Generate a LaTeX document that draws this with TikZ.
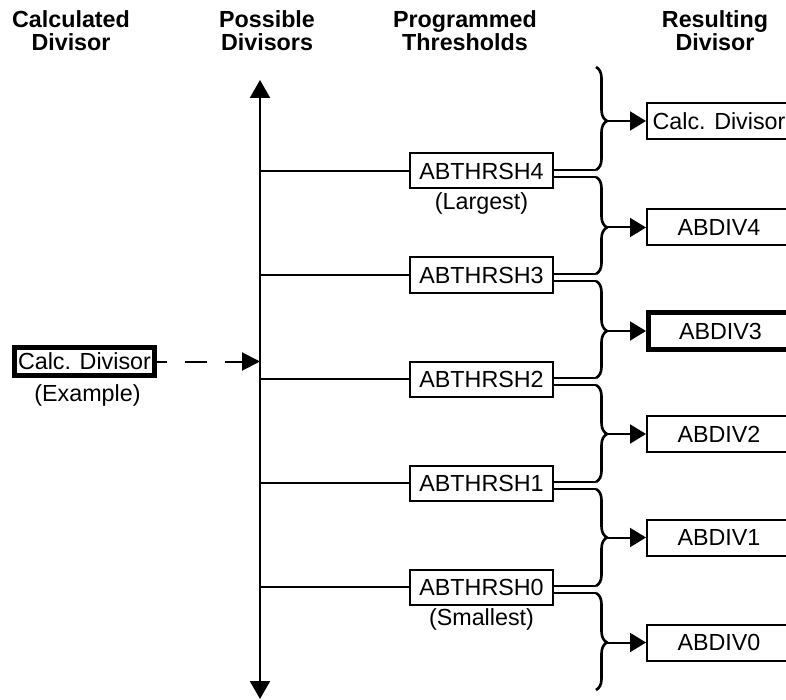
\documentclass[tikz,border=0pt]{standalone}
\usepackage{fontspec}
\setmainfont{Liberation Sans}
\usetikzlibrary{arrows.meta,decorations.pathreplacing}
\newcommand\bodyfnt{\fontsize{23.3}{26}\selectfont}
\begin{document}
\begin{tikzpicture}[x=1pt,y=-1pt,
  hdr/.style={font=\bfseries\fontsize{23.3}{23}\selectfont, align=center, anchor=north, inner sep=0pt},
  thr/.style={draw, line width=2pt, minimum width=143pt, minimum height=35pt, inner sep=0pt, font=\bodyfnt},
  rbox/.style={draw, line width=2pt, minimum width=144pt, minimum height=36pt, inner sep=0pt, font=\bodyfnt},
  rthick/.style={draw, line width=5pt, minimum width=144pt, minimum height=37pt, inner sep=0pt, font=\bodyfnt},
  lbl/.style={font=\bodyfnt, inner sep=0pt},
  thin/.style={line width=2pt},
  brc/.style={decorate, decoration={brace, amplitude=11pt, aspect=#1}, line width=2.6pt},
  tip/.style={-{Triangle[length=16pt,width=19pt]}, line width=2pt}
]
\useasboundingbox (0,0) rectangle (786,700);
\clip (0,0) rectangle (786,700);

% headers
\node[hdr] (h1) at (71,10) {Calculated\\Divisor};
\node[hdr] (h2) at (267,10) {Possible\\Divisors};
\node[hdr] (h3) at (465,10) {Programmed\\Thresholds};
\node[hdr] (h4) at (715,10) {Resulting\\Divisor};

% axis
\coordinate (axtop) at (260,80);
\coordinate (axbot) at (260,699);
\draw[line width=2pt, {Triangle[length=18pt,width=20pt]}-{Triangle[length=18pt,width=20pt]}] (axbot) -- (axtop);

% calculated divisor
\node[draw, line width=5pt, minimum width=140pt, minimum height=28pt, inner sep=0pt, font=\bodyfnt] (cd) at (84.5,361.5) {Calc. Divisor};
\node[lbl] (ex) at (87.5,395) {(Example)};
\draw[line width=2pt, dash pattern=on 22pt off 18pt, dash phase=12pt, -{Triangle[length=18pt,width=18pt]}] (cd.east) -- (cd.east -| axtop);

% thresholds
\node[thr] (t4) at (481.5,171) {ABTHRSH4};
\node[thr] (t3) at (481.5,275) {ABTHRSH3};
\node[thr] (t2) at (481.5,379) {ABTHRSH2};
\node[thr] (t1) at (481.5,483) {ABTHRSH1};
\node[thr] (t0) at (481.5,587) {ABTHRSH0};
\node[lbl] (lg) at (481.5,203) {(Largest)};
\node[lbl] (sm) at (481.5,619) {(Smallest)};

\foreach \t in {t4,t3,t2,t1,t0}{
  \draw[thin] (\t.west -| axtop) -- (\t.west);
}

% brace end points
\coordinate (b1t) at (596,67);
\coordinate (b1b) at (596,170);
\coordinate (b2t) at (596,177);
\coordinate (b2b) at (596,274);
\coordinate (b3t) at (596,281);
\coordinate (b3b) at (596,378);
\coordinate (b4t) at (596,385);
\coordinate (b4b) at (596,482);
\coordinate (b5t) at (596,489);
\coordinate (b5b) at (596,586);
\coordinate (b6t) at (596,593);
\coordinate (b6b) at (596,690);

% double lines
\draw[thin] (t4.east |- b1b) -- (b1b);
\draw[thin] (t4.east |- b2t) -- (b2t);
\draw[thin] (t3.east |- b2b) -- (b2b);
\draw[thin] (t3.east |- b3t) -- (b3t);
\draw[thin] (t2.east |- b3b) -- (b3b);
\draw[thin] (t2.east |- b4t) -- (b4t);
\draw[thin] (t1.east |- b4b) -- (b4b);
\draw[thin] (t1.east |- b5t) -- (b5t);
\draw[thin] (t0.east |- b5b) -- (b5b);
\draw[thin] (t0.east |- b6t) -- (b6t);

% braces
\draw[brc=0.524] (b1t) -- (b1b);
\draw[brc=0.52] (b2t) -- (b2b);
\draw[brc=0.515] (b3t) -- (b3b);
\draw[brc=0.505] (b4t) -- (b4b);
\draw[brc=0.5] (b5t) -- (b5b);
\draw[brc=0.51] (b6t) -- (b6b);

% results
\node[rbox] (r5) at (719,121) {Calc. Divisor};
\node[rbox] (r4) at (719,227.5) {ABDIV4};
\node[rthick] (r3) at (720.5,331) {ABDIV3};
\node[rbox] (r2) at (719,434) {ABDIV2};
\node[rbox] (r1) at (719,537.5) {ABDIV1};
\node[rbox] (r0) at (719,642.5) {ABDIV0};

\foreach \r in {r5,r4,r3,r2,r1,r0}{
  \draw[tip] (\r.west -| 607,0) -- (\r.west);
}
\end{tikzpicture}
\end{document}
